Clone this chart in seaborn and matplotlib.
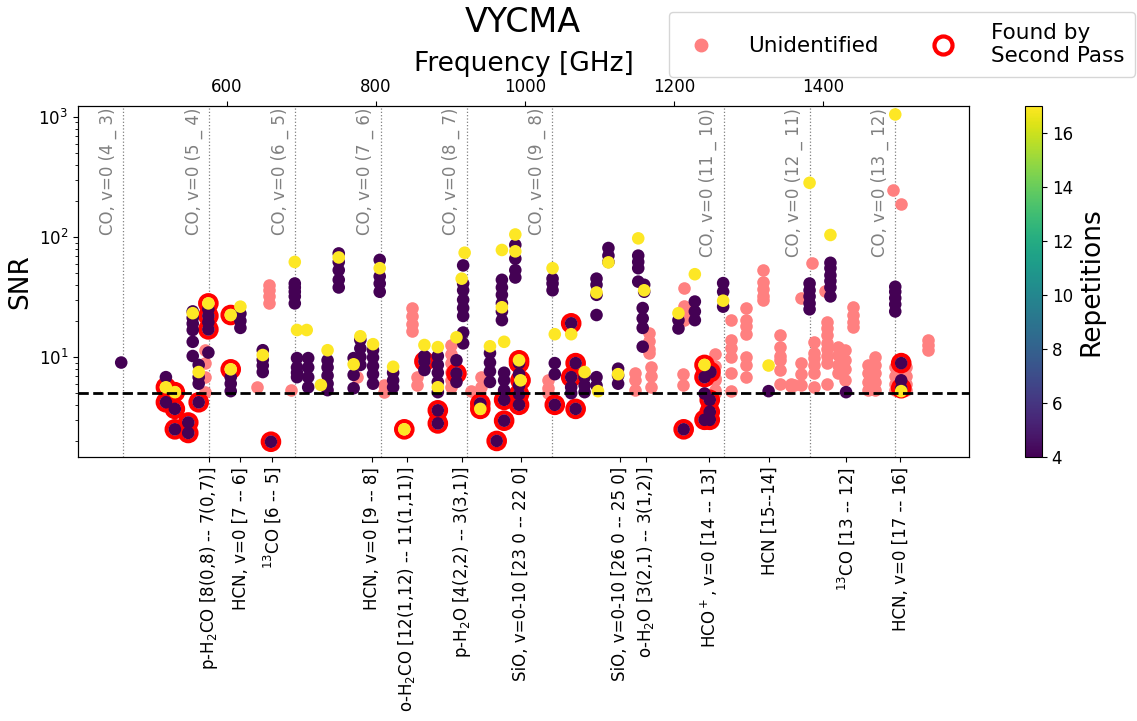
import numpy as np
import pandas as pd
import matplotlib
matplotlib.use("Agg")
import matplotlib.pyplot as plt
import seaborn as sns
from matplotlib.lines import Line2D
from matplotlib.cm import ScalarMappable
from matplotlib.colors import Normalize

# ---------------- data ----------------
# identified lines, repetitions = 4 (dark)
dark_freq = [458, 518, 518, 530, 530, 548, 548,
             554, 554, 554, 554, 554, 554,
             562, 562, 562, 562,
             575, 575, 575, 575, 575,
             618, 618, 618, 605, 605, 605,
             648, 648, 648, 648, 659,
             691, 691, 691, 691, 691,
             694, 694, 694, 694, 709, 709, 709, 709,
             735, 735, 735, 735, 735,
             750, 750, 750, 750, 750,
             770, 770, 770, 779, 779, 779, 779,
             796, 796, 796, 796, 796,
             805, 805, 805, 805, 823, 823, 823,
             865, 865, 865,
             883, 883, 883, 883, 883, 883, 883,
             908, 908, 908,
             917, 917, 917, 917, 917, 917, 917, 917,
             940, 953, 953, 953, 953,
             969, 969, 969, 969, 969, 969,
             972, 972, 972, 972, 972, 962,
             987, 987, 987, 987,
             992, 992, 992, 992, 992,
             1037, 1037, 1037, 1040, 1040, 1040,
             1062, 1062, 1062, 1062, 1068, 1068,
             1080, 1080, 1080, 1096, 1096, 1096, 1096, 1096, 1096,
             1112, 1112, 1112, 1125, 1125, 1125,
             1152, 1152, 1152, 1152, 1160, 1160, 1158, 1158, 1158, 1158,
             1206, 1206, 1228, 1228, 1228, 1213,
             1241, 1241, 1241, 1248, 1248, 1248, 1249,
             1266, 1266, 1266, 1327,
             1382, 1382, 1382, 1382, 1382,
             1410, 1410, 1410, 1410, 1410, 1410, 1431,
             1497, 1497, 1497, 1497, 1497, 1505, 1505, 1505]
dark_snr = [9.0, 6.8, 4.2, 3.7, 2.5, 2.85, 2.33,
            24, 21.2, 19, 16.8, 13.4, 10.2,
            8.6, 6.8, 6.0, 4.2,
            25, 22, 19.5, 17, 10.9,
            23, 20, 17.5, 6.8, 6.0, 5.2,
            11.4, 9.5, 8.5, 7.5, 1.97,
            41, 38, 35, 32, 28,
            9.8, 8.2, 7.4, 6.8, 9.8, 8.2, 6.8, 5.6,
            9.4, 8.2, 7.0, 6.0, 5.3,
            73, 62, 53, 44, 38,
            9.8, 7.1, 5.5, 13.9, 11.8, 10, 8.6,
            11.4, 9.9, 8.4, 7.2, 6.0,
            64.5, 47, 41, 35, 7.4, 6.4, 5.6,
            10.2, 9.2, 7.8,
            10.2, 8.6, 7.4, 6.2, 5.1, 3.6, 2.8,
            9.4, 7.3, 6.2,
            58, 41, 36, 30, 25.6, 22, 16, 13,
            4.1, 10.8, 9.0, 7.6, 6.2,
            44, 38, 33, 28, 24, 20.3,
            7.4, 6.4, 5.3, 4.4, 2.95, 2.0,
            86, 66, 53, 46,
            8.9, 7.2, 5.8, 4.9, 4.0,
            45, 41, 36, 8.9, 7.2, 4.0,
            19.1, 6.8, 5.6, 5.0, 8.9, 3.7,
            6.8, 5.8, 5.1, 6.8, 5.8, 45, 40, 33, 22.4,
            81, 70, 62, 8, 7, 6,
            70, 62, 55, 42.5, 40, 35, 25.6, 21, 17.5, 12.2,
            20.3, 17.3, 29, 24, 20.3, 2.5,
            6.8, 4.97, 3.0, 4.4, 3.5, 3.0, 7.5,
            41.3, 35, 26.3, 5.2,
            41, 36, 32, 28, 25,
            61, 55, 48, 43, 38, 32, 5.1,
            38.5, 35, 31, 27.5, 24, 8.9, 6.4, 5.5]

# identified lines, repetitions = 17 (yellow)
yellow_freq = [518, 530, 554, 562, 575, 605, 605, 618, 648, 691, 694, 707,
               726, 735, 750, 770, 779, 796, 805, 823, 838, 865, 883, 883,
               908, 919, 915, 940, 953, 969, 969, 972, 987, 987, 992, 994,
               1037, 1040, 1062, 1080, 1098, 1096, 1112, 1125, 1152, 1160,
               1206, 1228, 1241, 1266, 1327, 1382, 1410, 1497, 1505]
yellow_snr = [5.6, 5.1, 23.2, 7.5, 28, 22.4, 7.9, 26.3, 10.4, 62, 16.8, 16.8,
              5.85, 11.4, 67.6, 8.7, 14.9, 12.8, 55, 8.3, 2.5, 12.6, 12.1, 5.6,
              14.6, 74, 45, 3.7, 12.3, 78, 26, 13.4, 105, 76, 9.4, 6.4,
              55, 15.5, 15.5, 7.5, 5.2, 34.5, 61.5, 7.2, 97.5, 36,
              23.2, 49, 8.6, 29.5, 8.5, 283, 104, 1050, 5.2]

# unidentified lines
unid_freq = [570, 570, 570, 570, 640, 656, 656, 656, 656, 686, 774, 811, 811,
             849, 849, 849, 849, 855, 855, 901, 901, 901, 901, 901, 901,
             928, 941, 941, 1031, 1031, 1031, 1147, 1147, 1147,
             1167, 1167, 1167, 1167, 1169, 1169, 1169,
             1212, 1212, 1214, 1214, 1214, 1218,
             1255, 1255, 1255, 1255, 1255, 1255,
             1277, 1277, 1277, 1277, 1277, 1277,
             1296, 1296, 1296, 1296, 1296, 1296, 1296,
             1320, 1320, 1320, 1320, 1320,
             1342, 1342, 1342, 1342, 1342, 1342,
             1357, 1357, 1371, 1371, 1371, 1371, 1361, 1385,
             1388, 1388, 1388, 1388, 1388, 1388, 1403,
             1406, 1406, 1406, 1406, 1406, 1406, 1406, 1406,
             1420, 1420, 1420, 1420, 1430, 1430, 1430, 1430,
             1440, 1440, 1440, 1440, 1460, 1460, 1460, 1460,
             1470, 1470, 1470, 1470, 1470, 1494, 1505,
             1497, 1497, 1497, 1497, 1512, 1512, 1512, 1512,
             1541, 1541, 1541]
unid_snr = [11.4, 8.9, 6.8, 5.1, 5.6, 39.9, 36, 32, 28, 5.3, 6.8, 5.85, 5.1,
            25.6, 22, 19, 16.5, 6.8, 5.85, 12.6, 10.7, 9.0, 7.5, 6.5, 5.6,
            5.2, 6.8, 5.6, 6.4, 5.5, 5.0, 7.4, 6.4, 5.3,
            15.8, 13.5, 11.6, 10.8, 8.3, 7.0, 5.6,
            7.2, 5.9, 37.4, 26.6, 20.3, 24,
            10.6, 8.5, 6.7, 6.4, 5.3, 5.0,
            20.3, 13.9, 11.8, 10, 7.3, 5.2,
            25.4, 20.3, 18, 15.6, 10, 8.6, 6.8,
            53, 42.5, 37, 32, 30,
            15.3, 12.2, 10.3, 9.4, 7.8, 6.0,
            6.0, 5.7, 30.8, 8.9, 7.2, 5.85, 5.85, 60.5,
            13.4, 10.9, 9.9, 8.6, 7.4, 5.6, 35.5,
            19.6, 17.3, 15.2, 13.2, 11.7, 10.2, 8.9, 6.0,
            12.2, 10.5, 8.6, 7.4, 11.5, 9.5, 8.0, 6.5,
            26.3, 22.5, 19.5, 17.9, 8.6, 7.3, 6.2, 5.3,
            10.1, 8.6, 7.3, 6.2, 5.3, 245, 190,
            8.2, 7.0, 6.0, 5.3, 8.2, 7.0, 6.0, 5.3,
            13.9, 12.6, 11.5]

# lines found by the second pass (ringed)
sp_freq = [518, 530, 518, 530, 530, 548, 548, 562, 575, 575, 575, 605, 605,
           659, 838, 865, 883, 883, 908, 940, 940, 972, 972, 962,
           992, 992, 992, 992, 994, 1040, 1062, 1068, 1062, 1068,
           1213, 1241, 1241, 1249, 1248, 1248, 1241, 1248, 1505, 1505]
sp_snr = [5.6, 5.1, 4.2, 3.7, 2.5, 2.85, 2.33, 4.2, 28, 22, 17, 22.4, 7.9,
          1.97, 2.5, 9.2, 3.6, 2.8, 7.3, 4.1, 3.7, 4.4, 2.95, 2.0,
          9.4, 8.9, 4.9, 4.0, 6.4, 4.0, 19.1, 8.9, 6.8, 3.7,
          2.5, 8.6, 6.8, 7.5, 4.4, 3.5, 3.0, 3.0, 8.9, 5.5]

# CO ladder (grey dotted lines)
co_freq = [461.0, 576.3, 691.5, 806.7, 921.8, 1036.9, 1267.0, 1382.0, 1496.9]
co_labels = ["CO, v=0 (4 _ 3)", "CO, v=0 (5 _ 4)", "CO, v=0 (6 _ 5)",
             "CO, v=0 (7 _ 6)", "CO, v=0 (8 _ 7)", "CO, v=0 (9 _ 8)",
             "CO, v=0 (11 _ 10)", "CO, v=0 (12 _ 11)", "CO, v=0 (13 _ 12)"]

# transitions labelled on the bottom axis
trans_freq = [576, 618, 660, 794, 841, 916, 994, 1127, 1162, 1247, 1328, 1431, 1504]
trans_labels = ["p-H$_2$CO [8(0,8) -- 7(0,7)]", "HCN, v=0 [7 -- 6]",
                "$^{13}$CO [6 -- 5]", "HCN, v=0 [9 -- 8]",
                "o-H$_2$CO [12(1,12) -- 11(1,11)]", "p-H$_2$O [4(2,2) -- 3(3,1)]",
                "SiO, v=0-10 [23 0 -- 22 0]", "SiO, v=0-10 [26 0 -- 25 0]",
                "o-H$_2$O [3(2,1) -- 3(1,2)]", "HCO$^+$, v=0 [14 -- 13]",
                "HCN [15--14]", "$^{13}$CO [13 -- 12]", "HCN, v=0 [17 -- 16]"]

top_ticks = [600, 800, 1000, 1200, 1400]
cbar_ticks = [4, 6, 8, 10, 12, 14, 16]
snr_threshold = 5

# ---------------- figure ----------------
W, H = 1137, 721
fig = plt.figure(figsize=(W / 100, H / 100), dpi=100)
ax = fig.add_axes([78 / W, 1 - 457 / H, (969 - 78) / W, (457 - 106) / H])
cax = fig.add_axes([1025 / W, 1 - 457 / H, 17 / W, (457 - 106) / H])

salmon = "#ff8080"
ident = pd.DataFrame({
    "freq": dark_freq + yellow_freq,
    "snr": dark_snr + yellow_snr,
    "reps": [4] * len(dark_freq) + [17] * len(yellow_freq),
})
unid = pd.DataFrame({"freq": unid_freq, "snr": unid_snr})
sp = pd.DataFrame({"freq": sp_freq, "snr": sp_snr})

sns.scatterplot(data=unid, x="freq", y="snr", color=salmon, s=82,
                linewidth=0, ax=ax, zorder=3, legend=False)
sns.scatterplot(data=sp, x="freq", y="snr", facecolor="none", edgecolor="red",
                s=140, linewidth=3.0, ax=ax, zorder=4, legend=False)
sns.scatterplot(data=ident, x="freq", y="snr", hue="reps", palette="viridis",
                hue_norm=(4, 17), s=82, linewidth=0, ax=ax, zorder=5, legend=False)

ax.set_yscale("log")
ax.set_xlim(400, 1596)
ax.set_ylim(1.47, 1235)
ax.axhline(snr_threshold, color="black", ls="--", lw=2, zorder=6)

for f, lab in zip(co_freq, co_labels):
    ax.axvline(f, color="grey", ls=":", lw=0.9, zorder=1)
    ax.text(f - 21, 0.995, lab, rotation=90, ha="center", va="top",
            color="grey", fontsize=12, transform=ax.get_xaxis_transform())

ax.set_xticks(trans_freq)
ax.set_xticklabels(trans_labels, rotation=90, fontsize=12)
ax.tick_params(axis="y", labelsize=12)
ax.set_xlabel("")
ax.set_ylabel("SNR", fontsize=19)

ax_top = ax.twiny()
ax_top.set_xlim(ax.get_xlim())
ax_top.set_xticks(top_ticks)
ax_top.set_xticklabels([str(t) for t in top_ticks], fontsize=12)
ax_top.set_xlabel("Frequency [GHz]", fontsize=19, labelpad=5)

fig.text(523 / W, 1 - 22 / H, "VYCMA", ha="center", va="center", fontsize=24)

sm = ScalarMappable(norm=Normalize(4, 17), cmap="viridis")
cbar = fig.colorbar(sm, cax=cax)
cbar.set_ticks(cbar_ticks)
cbar.ax.tick_params(labelsize=12)
cbar.set_label("Repetitions", fontsize=19)

handles = [
    Line2D([], [], marker="o", ls="", color=salmon, markersize=9),
    Line2D([], [], marker="o", ls="", markerfacecolor="none",
           markeredgecolor="red", markeredgewidth=3, markersize=13),
]
fig.legend(handles, ["Unidentified", "Found by\nSecond Pass"], loc="upper right",
           bbox_to_anchor=(1135 / W, 1 - 12 / H), borderaxespad=0, ncol=2,
           fontsize=15.5, columnspacing=2.0, handletextpad=1.2, borderpad=0.5)

fig.savefig("out.png", dpi=100)
